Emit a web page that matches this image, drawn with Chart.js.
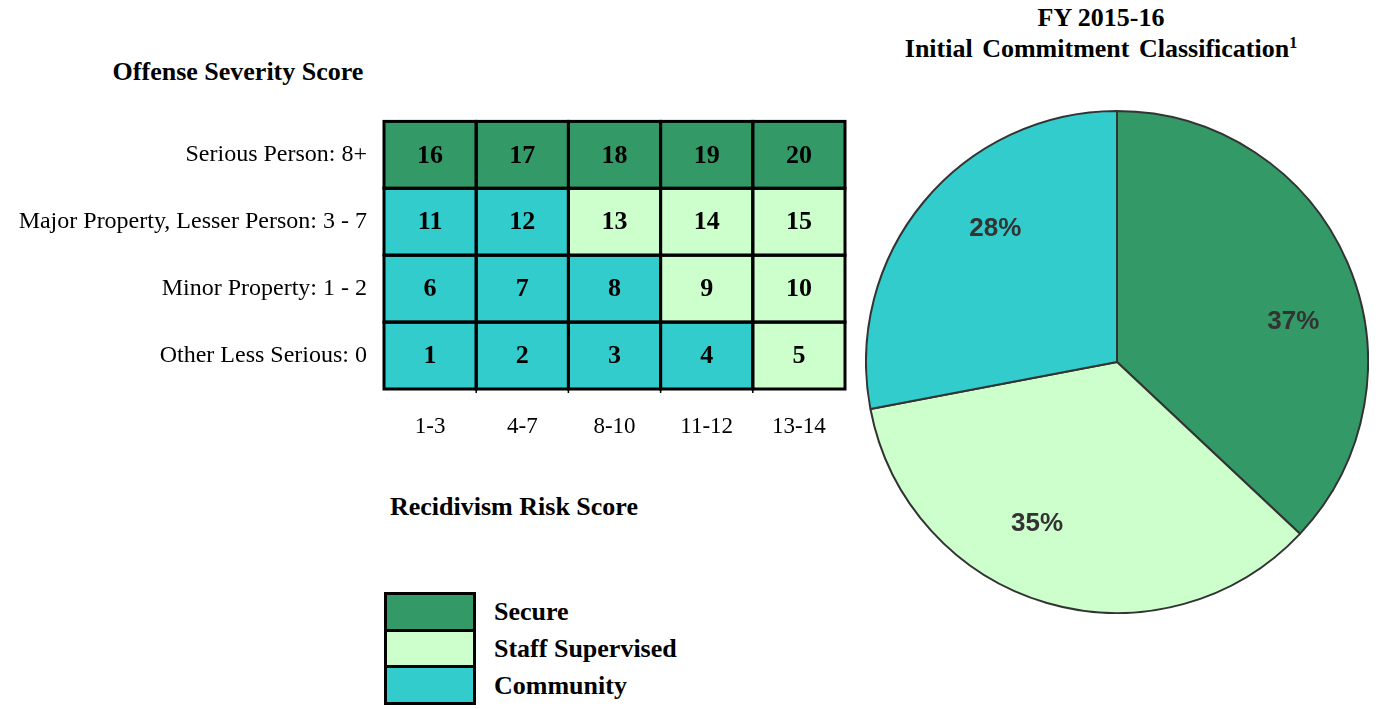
<!DOCTYPE html>
<html>
<head>
<meta charset="utf-8">
<script src="https://cdn.jsdelivr.net/npm/chart.js@4/dist/chart.umd.min.js"></script>
<style>
  body { margin: 0; background: #fff; width: 1383px; height: 709px; position: relative; overflow: hidden; }
  .t { position: absolute; font-family: "Liberation Serif", "Times New Roman", serif; font-weight: bold; font-size: 26px; color: #000; white-space: nowrap; }
  canvas { position: absolute; }
  #legend { position: absolute; left: 384px; top: 592px; }
  .lrow { height: 37px; display: flex; align-items: center; }
  .lbox { width: 86px; height: 34px; border: 3px solid #000; border-bottom: none; }
  .lrow:last-child .lbox { border-bottom: 3px solid #000; height: 34px; }
  .ltxt { margin-left: 18px; font-family: "Liberation Serif", serif; font-weight: bold; font-size: 26px; position: relative; top: 1px; }
</style>
</head>
<body>
<div class="t" style="left:0;width:476px;top:57px;text-align:center;">Offense Severity Score</div>
<div class="t" style="left:300px;width:428px;top:492px;text-align:center;">Recidivism Risk Score</div>
<div class="t" style="left:860px;width:482px;top:2px;text-align:center;line-height:31px;">FY 2015-16<br><span style="word-spacing:3px;">Initial Commitment Classification</span><span style="font-size:16px;position:relative;top:-9px;line-height:0;">1</span></div>

<canvas id="grid" style="left:0;top:90px;width:870px;height:370px;" width="870" height="370"></canvas>
<canvas id="pie" style="left:865px;top:110px;width:504px;height:504px;" width="504" height="504"></canvas>
<div id="legend"></div>

<script>
// classification matrix: offense severity (rows) x recidivism risk (columns)
const riskScores = ['1-3', '4-7', '8-10', '11-12', '13-14'];
const offenseLevels = ['Other Less Serious: 0', 'Minor Property: 1 - 2', 'Major Property, Lesser Person: 3 - 7', 'Serious Person: 8+'];
const cellNumbers = [
  [1, 2, 3, 4, 5],
  [6, 7, 8, 9, 10],
  [11, 12, 13, 14, 15],
  [16, 17, 18, 19, 20]
];
const cellClass = [
  ['Community', 'Community', 'Community', 'Community', 'Staff Supervised'],
  ['Community', 'Community', 'Community', 'Staff Supervised', 'Staff Supervised'],
  ['Community', 'Community', 'Staff Supervised', 'Staff Supervised', 'Staff Supervised'],
  ['Secure', 'Secure', 'Secure', 'Secure', 'Secure']
];

// FY 2015-16 initial commitments
const classNames = ['Secure', 'Staff Supervised', 'Community'];
const classShares = [37, 35, 28];

const classColors = { 'Secure': '#339966', 'Staff Supervised': '#CCFFCC', 'Community': '#33CCCC' };

const serif = '"Liberation Serif", "Times New Roman", serif';

const cellPlugin = {
  id: 'cells',
  afterDatasetsDraw(chart) {
    const ctx = chart.ctx;
    ctx.save();
    ctx.strokeStyle = '#000';
    ctx.lineWidth = 3;
    chart.data.datasets.forEach((ds, r) => {
      const meta = chart.getDatasetMeta(r);
      meta.data.forEach((bar, c) => {
        const left = bar.x - bar.width / 2;
        ctx.strokeRect(left, bar.y, bar.width, bar.base - bar.y);
        ctx.fillStyle = '#000';
        ctx.font = 'bold 26px ' + serif;
        ctx.textAlign = 'center';
        ctx.textBaseline = 'middle';
        ctx.fillText(String(cellNumbers[r][c]), bar.x, (bar.y + bar.base) / 2 + 1);
      });
    });
    // small tick marks under the column separators
    const x = chart.scales.x, bottom = chart.chartArea.bottom;
    for (let i = 1; i < riskScores.length; i++) {
      const px = (x.getPixelForValue(i - 1) + x.getPixelForValue(i)) / 2;
      ctx.beginPath();
      ctx.lineWidth = 1.5;
      ctx.moveTo(px, bottom);
      ctx.lineTo(px, bottom + 4);
      ctx.stroke();
    }
    ctx.restore();
  }
};

new Chart(document.getElementById('grid'), {
  type: 'bar',
  data: {
    labels: riskScores,
    datasets: offenseLevels.map((lvl, r) => ({
      label: lvl,
      data: riskScores.map(() => 1),
      backgroundColor: cellClass[r].map(k => classColors[k]),
      borderWidth: 0,
      categoryPercentage: 1,
      barPercentage: 1
    }))
  },
  options: {
    responsive: false,
    animation: false,
    events: [],
    layout: { padding: { left: 0, right: 25, top: 10, bottom: 0 } },
    plugins: { legend: { display: false }, tooltip: { enabled: false } },
    scales: {
      x: {
        stacked: true,
        grid: { display: false, drawTicks: false },
        border: { display: false },
        afterFit: s => { s.height = 71; },
        ticks: { color: '#000', font: { family: serif, size: 23 }, padding: 24, maxRotation: 0 }
      },
      y: {
        stacked: true,
        min: 0,
        max: offenseLevels.length,
        grid: { display: false, drawTicks: false },
        border: { display: false },
        afterFit: s => { s.width = 384; },
        afterBuildTicks: s => { s.ticks = offenseLevels.map((_, i) => ({ value: i + 0.5 })); },
        ticks: {
          color: '#000',
          autoSkip: false,
          padding: 17,
          font: { family: serif, size: 24 },
          callback: v => offenseLevels[Math.floor(v)]
        }
      }
    }
  },
  plugins: [cellPlugin]
});

const pieLabelPlugin = {
  id: 'pieLabels',
  afterDatasetsDraw(chart) {
    const ctx = chart.ctx;
    const meta = chart.getDatasetMeta(0);
    ctx.save();
    ctx.fillStyle = '#333';
    ctx.font = 'bold 26px "Liberation Sans", Arial, sans-serif';
    ctx.textAlign = 'center';
    ctx.textBaseline = 'middle';
    meta.data.forEach((arc, i) => {
      const a = arc.startAngle + (arc.endAngle - arc.startAngle) * 0.58;
      const r = arc.outerRadius * 0.72;
      ctx.fillText(classShares[i] + '%', arc.x + Math.cos(a) * r, arc.y + Math.sin(a) * r);
    });
    ctx.restore();
  }
};

new Chart(document.getElementById('pie'), {
  type: 'pie',
  data: {
    labels: classNames,
    datasets: [{
      data: classShares,
      backgroundColor: classNames.map(n => classColors[n]),
      borderColor: '#333',
      borderWidth: 2
    }]
  },
  options: {
    responsive: false,
    animation: false,
    events: [],
    plugins: { legend: { display: false }, tooltip: { enabled: false } }
  },
  plugins: [pieLabelPlugin]
});

// legend
const legend = document.getElementById('legend');
classNames.forEach(n => {
  const row = document.createElement('div');
  row.className = 'lrow';
  row.innerHTML = '<div class="lbox" style="background:' + classColors[n] + '"></div><div class="ltxt">' + n + '</div>';
  legend.appendChild(row);
});
</script>
</body>
</html>
